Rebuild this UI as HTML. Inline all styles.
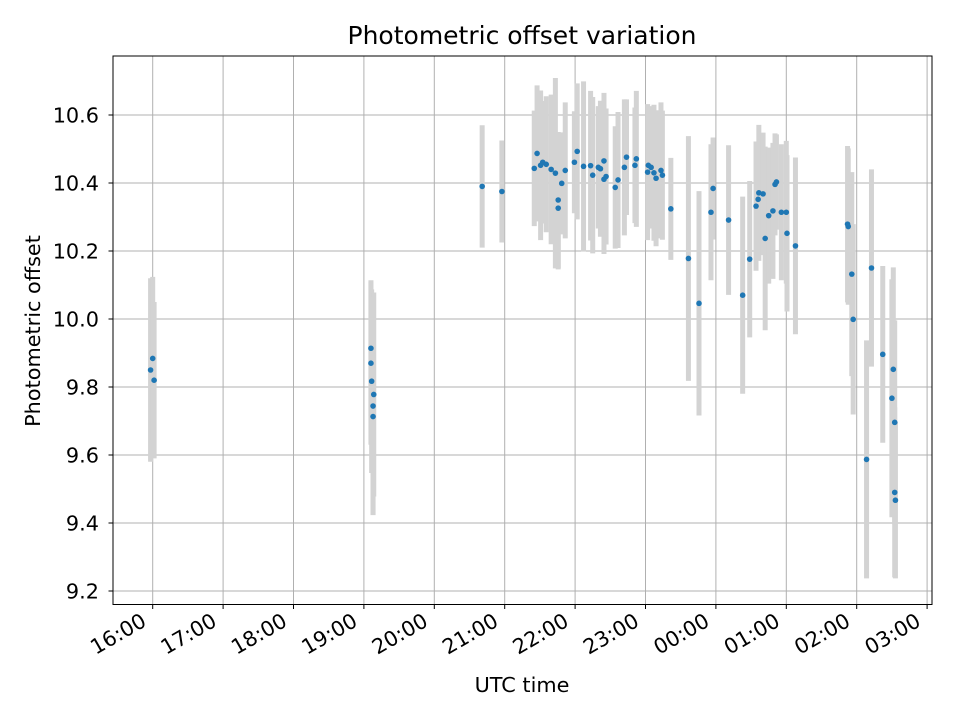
<!DOCTYPE html>
<html><head><meta charset="utf-8"><style>
html,body{margin:0;padding:0;background:#fff;}
svg{display:block;font-family:"DejaVu Sans","Liberation Sans",sans-serif;}
</style></head><body>
<svg id="chart" width="960" height="720" viewBox="0 0 960 720" xmlns="http://www.w3.org/2000/svg">
<rect width="960" height="720" fill="#fff"/>
<text x="522" y="44" text-anchor="middle" style="font-size:25px" fill="#000">Photometric offset variation</text>
<g id="grid"></g>
<g id="errs"></g>
<g id="pts"></g>
<rect x="113" y="56" width="819" height="548.5" fill="none" stroke="#000" stroke-width="1"/>
<g id="xticks"></g>
<g id="yticks"></g>
<text x="522" y="692" text-anchor="middle" style="font-size:20.8px" fill="#000">UTC time</text>
<text transform="translate(40,331) rotate(-90)" text-anchor="middle" style="font-size:20.8px" fill="#000">Photometric offset</text>
</svg>
<script>
// decimal hours (after 24 = next day), offset values, error half-widths
var times = [15.97,16.00,16.02, 19.10,19.10,19.11,19.14,19.13,19.13, 20.68,20.96,
 21.42,21.46,21.51,21.54,21.59,21.66,21.72,21.76,21.76,21.81,21.86,21.99,22.03,22.12,22.22,22.25,22.33,22.36,22.41,22.41,22.44,22.57,22.61,22.70,22.73,22.85,22.87,23.04,23.03,23.08,23.12,23.15,23.22,23.24,23.36,
 23.61,23.76,23.93,23.96,24.18,24.38,24.48,24.57,24.60,24.61,24.67,24.70,24.75,24.81,24.84,24.86,24.93,25.00,25.01,25.13,
 25.87,25.88,25.93,25.95,26.14,26.21,26.37,26.52,26.50,26.54,26.54,26.55];
var values = [9.85,9.884,9.82, 9.914,9.870,9.817,9.778,9.744,9.713, 10.39,10.375,
 10.443,10.487,10.452,10.461,10.455,10.440,10.429,10.35,10.326,10.399,10.437,10.461,10.493,10.449,10.451,10.423,10.446,10.442,10.465,10.411,10.419,10.387,10.409,10.446,10.476,10.452,10.471,10.452,10.432,10.446,10.430,10.414,10.437,10.423,10.324,
 10.178,10.046,10.314,10.384,10.291,10.07,10.176,10.332,10.352,10.371,10.368,10.237,10.304,10.318,10.396,10.403,10.314,10.314,10.252,10.215,
 10.279,10.272,10.132,9.999,9.587,10.15,9.896,9.852,9.767,9.696,9.49,9.467];
var errors = [0.27,0.24,0.23, 0.2,0.24,0.27,0.3,0.32,0.29, 0.18,0.15,
 0.17,0.2,0.22,0.18,0.2,0.22,0.28,0.2,0.18,0.15,0.2,0.15,0.2,0.25,0.22,0.23,0.18,0.2,0.2,0.22,0.2,0.18,0.2,0.2,0.17,0.17,0.2,0.17,0.2,0.18,0.2,0.2,0.2,0.19,0.15,
 0.36,0.33,0.2,0.15,0.22,0.29,0.23,0.19,0.17,0.2,0.18,0.27,0.2,0.2,0.15,0.14,0.2,0.21,0.23,0.26,
 0.23,0.23,0.3,0.28,0.35,0.29,0.26,0.3,0.35,0.3,0.25,0.23];
var xTickLabels = ["16:00","17:00","18:00","19:00","20:00","21:00","22:00","23:00","00:00","01:00","02:00","03:00"];
var xTickHours = [16,17,18,19,20,21,22,23,24,25,26,27];
var yTickValues = [9.2,9.4,9.6,9.8,10.0,10.2,10.4,10.6];

var NS="http://www.w3.org/2000/svg";
function X(h){return 152.7+(h-16)*70.4;}
function Y(v){return 319-(v-10)*340;}
function mk(tag,attrs,parent){var e=document.createElementNS(NS,tag);for(var k in attrs)e.setAttribute(k,attrs[k]);parent.appendChild(e);return e;}
var grid=document.getElementById('grid'),errs=document.getElementById('errs'),pts=document.getElementById('pts'),xt=document.getElementById('xticks'),yt=document.getElementById('yticks');
xTickHours.forEach(function(h,i){
  var x=X(h);
  var g=mk('line',{x1:x,x2:x,y1:56,y2:604.5,stroke:'#b0b0b0','stroke-width':1},grid);
  
  
  var t=mk('line',{x1:x,x2:x,y1:604.5,y2:609,stroke:'#000','stroke-width':1},xt);
  
  
  var lx=x-5, ly=625;
  var l=mk('text',{x:lx,y:ly,'text-anchor':'end',style:'font-size:20.8px',fill:'#000',transform:'rotate(-30 '+lx+' '+ly+')'},xt);
  l.textContent=xTickLabels[i];
  
  
});
yTickValues.forEach(function(v){
  var y=Y(v);
  var g=mk('line',{x1:113,x2:932,y1:y,y2:y,stroke:'#b0b0b0','stroke-width':1},grid);
  
  
  var t=mk('line',{x1:108.5,x2:113,y1:y,y2:y,stroke:'#000','stroke-width':1},yt);
  
  
  var l=mk('text',{x:99,y:y+7.5,'text-anchor':'end',style:'font-size:20.8px',fill:'#000'},yt);
  l.textContent=v.toFixed(1);
  
  
});
times.forEach(function(h,i){
  var x=X(h);
  var e=mk('line',{x1:x,x2:x,y1:Y(values[i]+errors[i]),y2:Y(values[i]-errors[i]),stroke:'#d3d3d3','stroke-width':5},errs);
  
  
  var c=mk('circle',{cx:x,cy:Y(values[i]),r:2.8,fill:'#1f77b4'},pts);
  
  
});
</script>
</body></html>
